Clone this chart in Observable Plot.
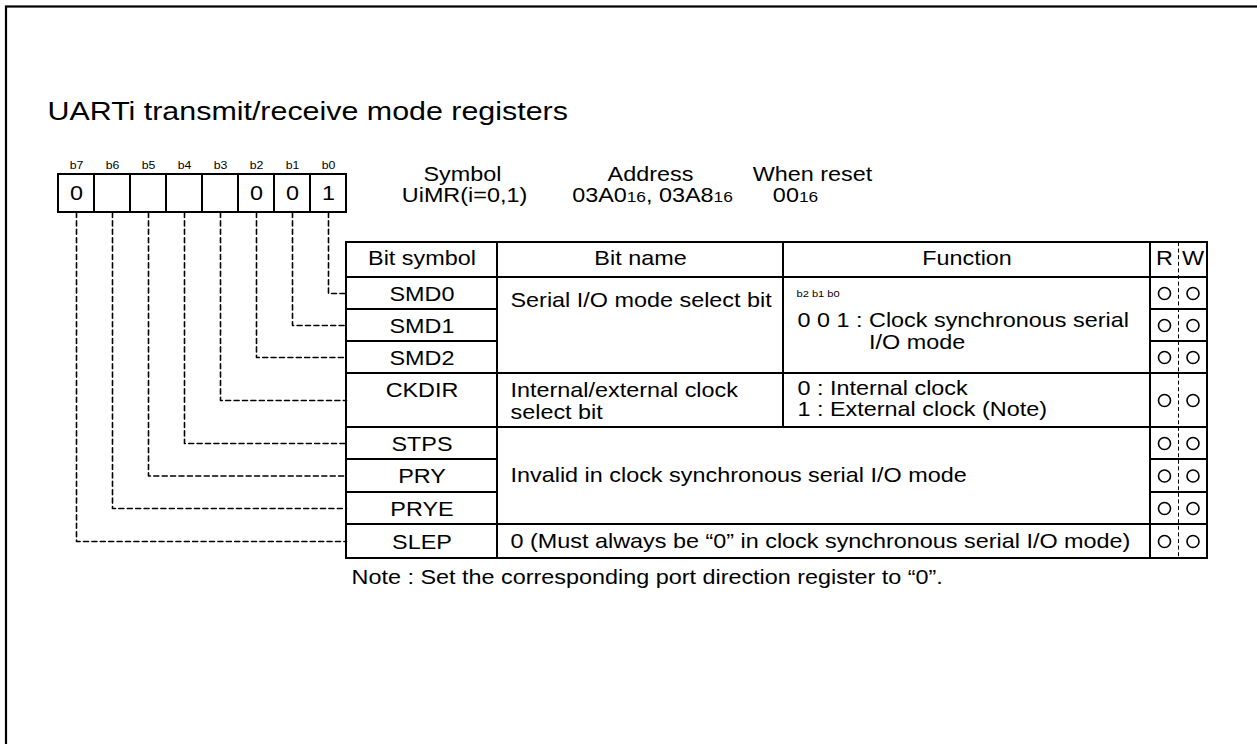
<!DOCTYPE html>
<html>
<head>
<meta charset="utf-8">
<script src="https://cdn.jsdelivr.net/npm/d3@7"></script>
<script src="https://cdn.jsdelivr.net/npm/@observablehq/plot@0.6"></script>
<style>
  html, body { margin: 0; padding: 0; background: #fff; }
  #chart svg { display: block; }
</style>
</head>
<body>
<div id="chart"></div>
<script>
// ---------------- DATA ----------------
const titleText = "UARTi transmit/receive mode registers";
const bitLabels = ["b7", "b6", "b5", "b4", "b3", "b2", "b1", "b0"];
const bitValues = ["0", "", "", "", "", "0", "0", "1"];
const infoHeads = ["Symbol", "Address", "When reset"];
const infoValues = ["UiMR(i=0,1)", "03A0{16}, 03A8{16}", "00{16}"];
const tableHeads = ["Bit symbol", "Bit name", "Function"];
const rwHeads = ["R", "W"];
const bitSymbols = ["SMD0", "SMD1", "SMD2", "CKDIR", "STPS", "PRY", "PRYE", "SLEP"];
const symbolBits = ["b0", "b1", "b2", "b3", "b4", "b5", "b6", "b7"];
const readFlags = [true, true, true, true, true, true, true, true];
const writeFlags = [true, true, true, true, true, true, true, true];
const groupFirstRow = [0, 3, 4, 7];
const groupLastRow = [2, 3, 6, 7];
const groupNames = [
  "Serial I/O mode select bit",
  "Internal/external clock\nselect bit",
  "Invalid in clock synchronous serial I/O mode",
  "0 (Must always be \u201C0\u201D in clock synchronous serial I/O mode)"
];
const groupFunctionHeads = ["b2 b1 b0", "", "", ""];
const groupFunctions = [
  "0 0 1 : Clock synchronous serial\nI/O mode",
  "0 : Internal clock\n1 : External clock (Note)",
  null,
  null
];
const noteText = "Note : Set the corresponding port direction register to \u201C0\u201D.";

// ---------------- LAYOUT ----------------
const W = 1257, H = 744;
const FONT = "'Liberation Sans', Arial, Helvetica, sans-serif";
const SX = 1.17;           // horizontal stretch of the lettering
const FS = 20;             // table text size
const L = {
  frame: {x: 6, y: 6.5},
  title: {x: 47, y: 111, size: 26},
  box: {x: 58, cell: 36, top: 174, bottom: 212, labelY: 165, labelSize: 10.5, valueSize: 20},
  info: {headY: 174, valueY: 195, headX: [462, 650, 812], valueX: [464, 652, 795]},
  cols: {left: 346, name: 497, func: 783, r: 1150, mid: 1178, right: 1207},
  rowEdges: [242, 277, 309, 341, 373, 427, 459, 492, 524, 558],
  textPadName: 13, textPadFunc: 14,
  nameFirst: [23, 17, null, null], nameGap: 22,
  funcFirst: [43, 15.5], funcGap: [22, 21], funcHeadOffset: 16, funcHeadSize: 9.5,
  tallRowFirst: 17,
  note: {x: 351, y: 577},
  circleR: 6
};
const C = L.cols;

// ---------------- DERIVED ----------------
const bitCells = bitLabels.map((label, i) => {
  const x1 = L.box.x + i * L.box.cell, x2 = x1 + L.box.cell;
  return {label, value: bitValues[i], x1, x2, y1: L.box.top, y2: L.box.bottom,
          cx: (x1 + x2) / 2, cy: (L.box.top + L.box.bottom) / 2};
});
const hdrTop = L.rowEdges[0], hdrBot = L.rowEdges[1];
const rows = bitSymbols.map((sym, i) => {
  const top = L.rowEdges[i + 1], bottom = L.rowEdges[i + 2];
  return {sym, bit: symbolBits[i], top, bottom, cy: (top + bottom) / 2,
          r: readFlags[i], w: writeFlags[i]};
});
const tableBottom = rows[rows.length - 1].bottom;

const connectors = rows.flatMap(r => {
  const c = bitCells.find(b => b.label === r.bit);
  return [
    {bit: r.bit, x: c.cx, y: L.box.bottom},
    {bit: r.bit, x: c.cx, y: r.cy},
    {bit: r.bit, x: C.left, y: r.cy}
  ];
});

const tableCells = [
  {x1: C.left, x2: C.name, y1: hdrTop, y2: hdrBot},
  {x1: C.name, x2: C.func, y1: hdrTop, y2: hdrBot},
  {x1: C.func, x2: C.r, y1: hdrTop, y2: hdrBot},
  {x1: C.r, x2: C.right, y1: hdrTop, y2: hdrBot}
];
rows.forEach(r => {
  tableCells.push({x1: C.left, x2: C.name, y1: r.top, y2: r.bottom});
  tableCells.push({x1: C.r, x2: C.right, y1: r.top, y2: r.bottom});
});

const ctx = document.createElement("canvas").getContext("2d");
ctx.font = `${FS}px ${FONT}`;

const midTexts = [];     // centred, table-size
const startTexts = [];   // left-aligned, table-size
const smallTexts = [];
const hdrY = (hdrTop + hdrBot) / 2 - 1;
midTexts.push({x: (C.left + C.name) / 2, y: hdrY, text: tableHeads[0]});
midTexts.push({x: (C.name + C.func) / 2, y: hdrY, text: tableHeads[1]});
midTexts.push({x: (C.func + C.r) / 2, y: hdrY, text: tableHeads[2]});
midTexts.push({x: (C.r + C.mid) / 2, y: hdrY, text: rwHeads[0]});
midTexts.push({x: (C.mid + C.right) / 2, y: hdrY, text: rwHeads[1]});
rows.forEach(r => {
  const tall = r.bottom - r.top > 40;
  midTexts.push({x: (C.left + C.name) / 2, y: tall ? r.top + L.tallRowFirst : r.cy + 1, text: r.sym});
});
groupNames.forEach((name, g) => {
  const top = rows[groupFirstRow[g]].top, bottom = rows[groupLastRow[g]].bottom;
  const fn = groupFunctions[g];
  if (fn) {
    tableCells.push({x1: C.name, x2: C.func, y1: top, y2: bottom});
    tableCells.push({x1: C.func, x2: C.r, y1: top, y2: bottom});
  } else {
    tableCells.push({x1: C.name, x2: C.r, y1: top, y2: bottom});
  }
  const lines = name.split("\n");
  const first = L.nameFirst[g];
  lines.forEach((ln, k) => {
    const y = first == null ? (top + bottom) / 2 + (k - (lines.length - 1) / 2) * L.nameGap
                            : top + first + k * L.nameGap;
    startTexts.push({x: C.name + L.textPadName, y, text: ln});
  });
  if (fn) {
    const flines = fn.split("\n");
    const lead = groupFunctionHeads[g] && flines[0].indexOf(": ") >= 0
      ? ctx.measureText(flines[0].slice(0, flines[0].indexOf(": ") + 2)).width * SX : 0;
    flines.forEach((ln, k) => {
      startTexts.push({x: C.func + L.textPadFunc + (k > 0 ? lead : 0),
                       y: top + L.funcFirst[g] + k * L.funcGap[g], text: ln});
    });
    if (groupFunctionHeads[g]) {
      smallTexts.push({x: C.func + L.textPadFunc - 1, y: top + L.funcHeadOffset, text: groupFunctionHeads[g]});
    }
  }
});
infoHeads.forEach((h, i) => midTexts.push({x: L.info.headX[i], y: L.info.headY, text: h}));
infoValues.forEach((v, i) => midTexts.push({x: L.info.valueX[i], y: L.info.valueY, text: v}));
startTexts.push({x: L.note.x, y: L.note.y, text: noteText});

const circles = rows.flatMap(r => [
  ...(r.r ? [{x: (C.r + C.mid) / 2, y: r.cy}] : []),
  ...(r.w ? [{x: (C.mid + C.right) / 2, y: r.cy}] : [])
]);

// ---------------- PLOT ----------------
const svg = Plot.plot({
  width: W, height: H, margin: 0,
  x: {type: "linear", domain: [0, W], range: [0, W], axis: null},
  y: {type: "linear", domain: [0, H], range: [0, H], axis: null},
  style: {fontFamily: FONT, background: "#fff", color: "#000", overflow: "hidden"},
  marks: [
    Plot.rect([{x1: L.frame.x, y1: L.frame.y, x2: W + 20, y2: H + 20}],
      {x1: "x1", x2: "x2", y1: "y1", y2: "y2", fill: "none", stroke: "#000", strokeWidth: 2.2}),
    Plot.text([{x: L.title.x, y: L.title.y, text: titleText}],
      {x: "x", y: "y", text: "text", textAnchor: "start", fontSize: L.title.size, fill: "#000"}),
    Plot.line(connectors,
      {x: "x", y: "y", z: "bit", stroke: "#000", strokeWidth: 1.6, strokeDasharray: "5,3.4"}),
    Plot.rect(bitCells,
      {x1: "x1", x2: "x2", y1: "y1", y2: "y2", fill: "#fff", stroke: "#000", strokeWidth: 2}),
    Plot.text(bitCells,
      {x: "cx", y: () => L.box.labelY, text: "label", fontSize: L.box.labelSize, fill: "#000"}),
    Plot.text(bitCells.filter(d => d.value !== ""),
      {x: "cx", y: "cy", text: "value", fontSize: L.box.valueSize, fill: "#000"}),
    Plot.rect(tableCells,
      {x1: "x1", x2: "x2", y1: "y1", y2: "y2", fill: "none", stroke: "#000", strokeWidth: 2}),
    Plot.ruleX([C.mid], {y1: hdrTop, y2: tableBottom, stroke: "#000", strokeWidth: 1, strokeDasharray: "4,2.6"}),
    Plot.dot(circles, {x: "x", y: "y", r: L.circleR, stroke: "#000", fill: "none", strokeWidth: 1.6}),
    Plot.text(midTexts,
      {x: "x", y: "y", text: "text", textAnchor: "middle", fontSize: FS, fill: "#000"}),
    Plot.text(startTexts,
      {x: "x", y: "y", text: "text", textAnchor: "start", fontSize: FS, fill: "#000"}),
    Plot.text(smallTexts,
      {x: "x", y: "y", text: "text", textAnchor: "start", fontSize: L.funcHeadSize, fill: "#000"})
  ]
});

// stretch lettering horizontally and shrink the base-16 suffixes
const NS = "http://www.w3.org/2000/svg";
svg.querySelectorAll("text").forEach(t => {
  const tr = t.getAttribute("transform") || "";
  t.setAttribute("transform", `${tr} scale(${SX},1)`);
  if (t.textContent.includes("{")) {
    const parts = t.textContent.split(/(\{[^}]*\})/);
    t.textContent = "";
    parts.forEach(p => {
      if (!p) return;
      const s = document.createElementNS(NS, "tspan");
      if (p.startsWith("{")) { s.textContent = p.slice(1, -1); s.setAttribute("font-size", "0.74em"); }
      else s.textContent = p;
      t.appendChild(s);
    });
  }
});
document.getElementById("chart").appendChild(svg);
</script>
</body>
</html>
